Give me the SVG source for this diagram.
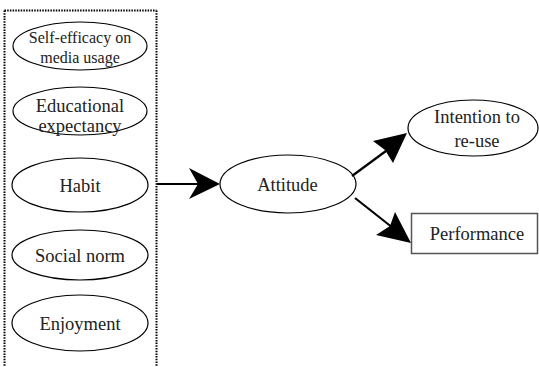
<svg xmlns="http://www.w3.org/2000/svg" width="539" height="367" viewBox="0 0 539 367">
<style>
.n{fill:#fff;stroke:#000;stroke-width:1.2}
.t{font-family:"Liberation Serif","Times New Roman",serif;font-size:18.5px;fill:#222;text-anchor:middle}
.s{font-size:16px}
.c{stroke:#000;stroke-width:2.2;fill:none}
.h{fill:#000;stroke:none}
</style>
<rect x="0" y="0" width="539" height="367" fill="#fff"/>
<g id="group-box"><path d="M4.5 10.5 H156.5 M4.5 10.5 V367 M156.5 10.5 V367" stroke="#000" stroke-width="2" stroke-dasharray="1.5 1.2" fill="none"/></g>
<g id="node-self-efficacy"><ellipse class="n" cx="80" cy="46" rx="67" ry="24"/><text class="t s" x="80" y="43">Self-efficacy on</text><text class="t s" x="80" y="63">media usage</text></g>
<g id="node-educational"><ellipse class="n" cx="80" cy="111" rx="67" ry="24"/><text class="t" x="80" y="112">Educational</text><text class="t" x="80" y="132">expectancy</text></g>
<g id="node-habit"><ellipse class="n" cx="80" cy="185" rx="68" ry="27"/><text class="t" x="80" y="192">Habit</text></g>
<g id="node-social"><ellipse class="n" cx="80" cy="255" rx="68" ry="25"/><text class="t" x="80" y="262">Social norm</text></g>
<g id="node-enjoyment"><ellipse class="n" cx="80" cy="323" rx="68" ry="28"/><text class="t" x="80" y="330">Enjoyment</text></g>
<g id="node-attitude"><ellipse class="n" cx="288" cy="184" rx="68" ry="29"/><text class="t" x="287.5" y="191">Attitude</text></g>
<g id="node-intention"><ellipse class="n" cx="473" cy="128" rx="65" ry="28"/><text class="t" x="477" y="123">Intention to</text><text class="t" x="477" y="147">re-use</text></g>
<g id="node-performance"><rect x="411.5" y="213.5" width="126" height="40" fill="#fff" stroke="#555" stroke-width="1.5"/><text class="t" x="477" y="240">Performance</text></g>
<g id="connectors">
<path class="c" d="M157 184 H200"/>
<path class="h" d="M220 184 L189 168 L198 184 L189 199 Z"/>
<path class="c" d="M352 176 L390 148"/>
<path class="h" d="M407 133 L373 141 L385 150 L393 163 Z"/>
<path class="c" d="M355 198 L393 228"/>
<path class="h" d="M411 243 L395 212 L390 226 L376 235 Z"/>
</g>
</svg>
